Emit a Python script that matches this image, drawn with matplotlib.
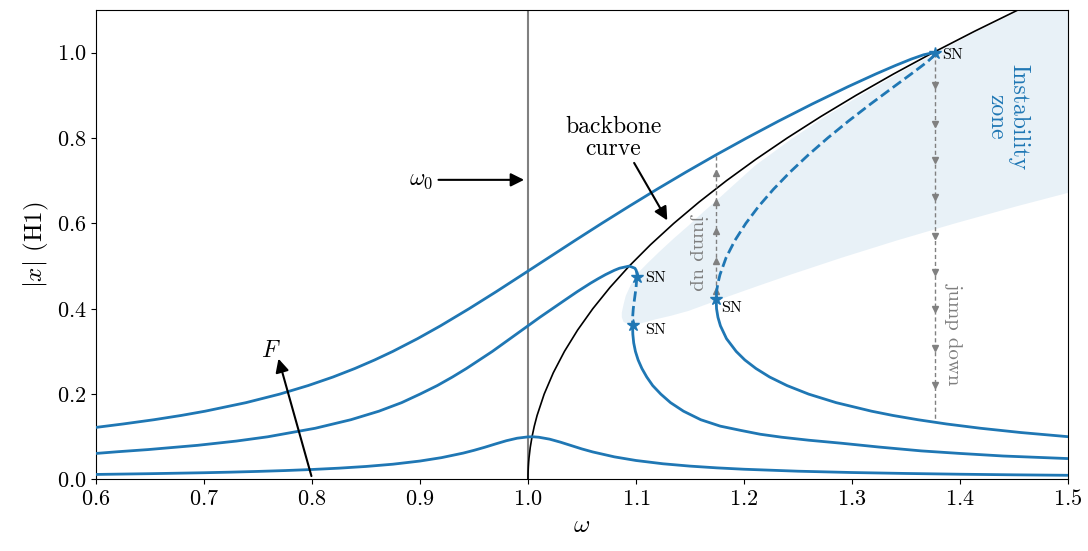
import matplotlib
matplotlib.use("Agg")
import matplotlib.pyplot as plt

plt.rcParams['font.family'] = 'serif'
plt.rcParams['font.serif'] = ['cmr10']
plt.rcParams['mathtext.fontset'] = 'cm'
plt.rcParams['axes.formatter.use_mathtext'] = True

# --- curves (omega, |x|) ---
# large forcing: upper stable, unstable (dashed), lower stable
top_up_w = [0.6, 0.625, 0.6537, 0.6789, 0.7011, 0.7389, 0.7701, 0.7964, 0.8194, 0.8397, 0.858, 0.8748,
            0.8978, 0.919, 0.9454, 0.9706, 0.995, 1.0193, 1.0436, 1.0683, 1.0936, 1.1195, 1.1462, 1.1738,
            1.2025, 1.2323, 1.2634, 1.2961, 1.322, 1.3403, 1.355, 1.3663, 1.3735, 1.3767]
top_up_a = [0.122, 0.13, 0.14, 0.15, 0.16, 0.18, 0.20, 0.22, 0.24, 0.26, 0.28, 0.30,
            0.33, 0.36, 0.40, 0.44, 0.48, 0.52, 0.56, 0.60, 0.64, 0.68, 0.72, 0.76,
            0.80, 0.84, 0.88, 0.92, 0.95, 0.97, 0.985, 0.995, 0.999, 0.998]
top_un_w = [1.3767, 1.3763, 1.3747, 1.3704, 1.3653, 1.3548, 1.3387, 1.3174, 1.2969, 1.2775, 1.2594,
            1.2426, 1.2273, 1.2136, 1.2017, 1.1916, 1.1835, 1.1778, 1.1759, 1.1746, 1.1742]
top_un_a = [0.998, 0.995, 0.99, 0.98, 0.97, 0.95, 0.92, 0.88, 0.84, 0.80, 0.76,
            0.72, 0.68, 0.64, 0.60, 0.56, 0.52, 0.48, 0.46, 0.44, 0.425]
top_lo_w = [1.1742, 1.1746, 1.1759, 1.1782, 1.1838, 1.1928, 1.2008, 1.2111, 1.2238, 1.2399, 1.2599,
            1.2854, 1.3181, 1.3379, 1.361, 1.3876, 1.419, 1.4563, 1.5012]
top_lo_a = [0.425, 0.40, 0.38, 0.36, 0.33, 0.30, 0.28, 0.26, 0.24, 0.22, 0.20,
            0.18, 0.16, 0.15, 0.14, 0.13, 0.12, 0.11, 0.10]

# medium forcing
mid_up_w = [0.6, 0.62, 0.648, 0.694, 0.73, 0.759, 0.803, 0.836, 0.862, 0.883, 0.9, 0.916, 0.93, 0.943,
            0.955, 0.967, 0.978, 0.989, 1.0, 1.011, 1.0225, 1.034, 1.0456, 1.058, 1.0647, 1.0718, 1.0799,
            1.0848, 1.0938, 1.099, 1.1002, 1.101, 1.1008]
mid_up_a = [0.061, 0.065, 0.07, 0.08, 0.09, 0.10, 0.12, 0.14, 0.16, 0.18, 0.20, 0.22, 0.24, 0.26,
            0.28, 0.30, 0.32, 0.34, 0.36, 0.38, 0.40, 0.42, 0.44, 0.46, 0.47, 0.48, 0.49,
            0.495, 0.50, 0.495, 0.49, 0.48, 0.475]
mid_un_w = [1.1008, 1.1001, 1.0985, 1.0975, 1.0969, 1.0968]
mid_un_a = [0.475, 0.45, 0.42, 0.40, 0.38, 0.363]
mid_lo_w = [1.0968, 1.0971, 1.0979, 1.0995, 1.102, 1.1055, 1.110, 1.1155, 1.123, 1.132, 1.144, 1.160,
            1.178, 1.197, 1.215, 1.235, 1.26, 1.29, 1.325, 1.364, 1.40, 1.44, 1.47, 1.5]
mid_lo_a = [0.363, 0.34, 0.32, 0.30, 0.28, 0.26, 0.24, 0.22, 0.20, 0.18, 0.16, 0.14,
            0.125, 0.115, 0.106, 0.099, 0.092, 0.085, 0.076, 0.067, 0.061, 0.055, 0.052, 0.049]

# small forcing
low_w = [0.6, 0.625, 0.65, 0.675, 0.7, 0.725, 0.75, 0.775, 0.8, 0.825, 0.85, 0.875, 0.9, 0.92, 0.94,
         0.95, 0.96, 0.97, 0.98, 0.99, 1.0, 1.005, 1.01, 1.02, 1.03, 1.04, 1.05, 1.06, 1.08, 1.1,
         1.125, 1.15, 1.175, 1.2, 1.25, 1.3, 1.35, 1.4, 1.45, 1.5]
low_a = [0.0118, 0.0127, 0.0136, 0.0147, 0.0158, 0.0172, 0.0189, 0.0209, 0.0234, 0.0265, 0.0305,
         0.0358, 0.0432, 0.0512, 0.0618, 0.0683, 0.0755, 0.0833, 0.0908, 0.0967, 0.0998, 0.1,
         0.099, 0.0945, 0.0875, 0.0795, 0.0715, 0.0645, 0.053, 0.0445, 0.0368, 0.0313, 0.0272,
         0.0240, 0.0194, 0.0163, 0.0141, 0.0123, 0.0109, 0.0098]

# backbone
bb_w = [1.0, 1.00004, 1.00015, 1.00034, 1.0006, 1.00094, 1.0021, 1.00375, 1.00586, 1.00844, 1.015,
        1.02344, 1.03375, 1.04594, 1.06, 1.07594, 1.09375, 1.11344, 1.135, 1.15844, 1.18375, 1.21094,
        1.24, 1.27094, 1.30375, 1.33844, 1.375, 1.41344, 1.45375, 1.49594]
bb_a = [0.0, 0.01, 0.02, 0.03, 0.04, 0.05, 0.075, 0.1, 0.125, 0.15, 0.2,
        0.25, 0.3, 0.35, 0.4, 0.45, 0.5, 0.55, 0.6, 0.65, 0.7, 0.75,
        0.8, 0.85, 0.9, 0.95, 1.0, 1.05, 1.1, 1.15]

# instability zone outline (upper edge out, lower edge back)
zone_w = [1.0869, 1.0885, 1.0905, 1.095, 1.1023, 1.11, 1.121, 1.1347, 1.1487, 1.1625, 1.1765, 1.1935,
          1.2106, 1.2453, 1.275, 1.308, 1.342, 1.378, 1.416, 1.4565, 1.5, 1.6, 1.6,
          1.5767, 1.5128, 1.4524, 1.3954, 1.3416, 1.291, 1.2433, 1.2091, 1.1756, 1.1487, 1.133,
          1.1178, 1.105, 1.093, 1.0885, 1.0869]
zone_a = [0.391, 0.41, 0.43, 0.455, 0.485, 0.505, 0.532, 0.564, 0.595, 0.627, 0.658, 0.697,
          0.736, 0.80, 0.85, 0.90, 0.95, 1.0, 1.05, 1.10, 1.15, 1.15, 0.74,
          0.72, 0.68, 0.64, 0.60, 0.56, 0.52, 0.48, 0.45, 0.42, 0.395, 0.384,
          0.375, 0.366, 0.3635, 0.369, 0.38]

# saddle-node points
sn_w = [1.1008, 1.0968, 1.1742, 1.3767]
sn_a = [0.475, 0.363, 0.423, 0.999]

# jumps
jump_up_w = 1.1744
jump_up_a = [0.423, 0.761]
jump_up_marks = [0.442, 0.512, 0.581, 0.650, 0.719]
jump_dn_w = 1.3767
jump_dn_a = [0.999, 0.134]
jump_dn_marks = [0.924, 0.834, 0.748, 0.662, 0.571, 0.485, 0.399, 0.309, 0.222]

c0 = '#1f77b4'
fig = plt.figure(figsize=(10.88, 5.51), dpi=100)
ax = fig.add_axes([0.0882, 0.1298, 0.8934, 0.8521])

ax.fill(zone_w, zone_a, color=c0, alpha=0.1, lw=0, zorder=0)
ax.axvline(1.0, color='gray', lw=1.5, zorder=1)

for w, a in [(top_up_w, top_up_a), (top_lo_w, top_lo_a), (mid_up_w, mid_up_a), (mid_lo_w, mid_lo_a), (low_w, low_a)]:
    ax.plot(w, a, color=c0, lw=2, zorder=3)
for w, a in [(top_un_w, top_un_a), (mid_un_w, mid_un_a)]:
    ax.plot(w, a, color=c0, lw=2, ls='--', zorder=3)
ax.plot(bb_w, bb_a, color='k', lw=1.2, zorder=2)

# jump lines
ax.plot([jump_up_w] * 2, jump_up_a, color='gray', lw=1, ls=(0, (3, 2)), zorder=2)
ax.plot([jump_up_w] * len(jump_up_marks), jump_up_marks, ls='none', marker='^', ms=5, color='gray', zorder=2)
ax.plot([jump_dn_w] * 2, jump_dn_a, color='gray', lw=1, ls=(0, (3, 2)), zorder=2)
ax.plot([jump_dn_w] * len(jump_dn_marks), jump_dn_marks, ls='none', marker='v', ms=5, color='gray', zorder=2)

ax.plot(sn_w, sn_a, ls='none', marker='*', ms=9, color=c0, zorder=4)
sn_off = [(0.008, -0.003), (0.012, -0.012), (0.005, -0.022), (0.007, -0.004)]
for w, a, (dx, dy) in zip(sn_w, sn_a, sn_off):
    ax.text(w + dx, a + dy, 'SN', fontsize=11.5, ha='left', va='center', zorder=5)

ax.text(1.158, 0.533, 'jump up', color='gray', rotation=-90, ha='center', va='center', fontsize=15)
ax.text(1.394, 0.34, 'jump down', color='gray', rotation=-90, ha='center', va='center', fontsize=15)
ax.text(1.444, 0.85, 'Instability\nzone', color=c0, rotation=-90, ha='center', va='center', fontsize=17,
        linespacing=1.0)

arr = dict(arrowstyle='-|>', color='k', lw=1.5, mutation_scale=20)
ax.annotate(r'$\omega_0$', xy=(0.999, 0.702), xytext=(0.912, 0.702), ha='right', va='center',
            fontsize=17, arrowprops=arr)
ax.annotate('backbone\ncurve', xy=(1.129, 0.607), xytext=(1.079, 0.80), ha='center', va='center',
            fontsize=17, linespacing=1.0, arrowprops=dict(arr, shrinkA=0, shrinkB=0, relpos=(0.7, 0.0)))
ax.annotate('', xy=(0.769, 0.283), xytext=(0.7995, 0.008),
            arrowprops=dict(arr, shrinkA=0, shrinkB=0))
ax.text(0.7616, 0.302, '$F$', fontsize=17, ha='center', va='center')

ax.set_xlim(0.6, 1.5)
ax.set_ylim(0, 1.1)
ax.set_xticks([0.6, 0.7, 0.8, 0.9, 1.0, 1.1, 1.2, 1.3, 1.4, 1.5])
ax.set_yticks([0.0, 0.2, 0.4, 0.6, 0.8, 1.0])
ax.tick_params(labelsize=16)
ax.set_xlabel(r'$\omega$', fontsize=18)
ax.set_ylabel(r'$|x|$ (H1)', fontsize=18)

fig.savefig('out.png', dpi=100)
